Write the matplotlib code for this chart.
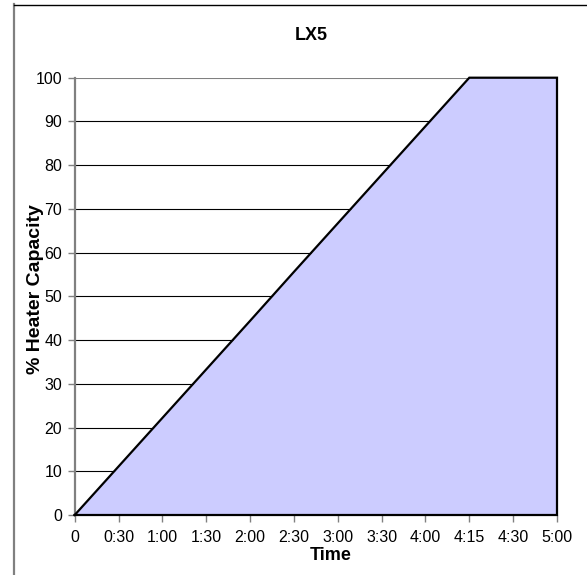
import numpy as np
import matplotlib
matplotlib.use("Agg")
import matplotlib.pyplot as plt
from matplotlib.lines import Line2D

plt.rcParams['font.family'] = ['Liberation Sans', 'DejaVu Sans']

# chart data: heater capacity ramps to 100% by 4:15
times = ['0', '0:30', '1:00', '1:30', '2:00', '2:30', '3:00', '3:30',
         '4:00', '4:15', '4:30', '5:00']
capacity = [0, 11.1, 22.2, 33.3, 44.4, 55.6, 66.7, 77.8, 88.9, 100, 100, 100]
y_ticks = [0, 10, 20, 30, 40, 50, 60, 70, 80, 90, 100]

W, H = 587, 575
fig = plt.figure(figsize=(W / 100, H / 100), dpi=100)
ax = fig.add_axes([74.7 / W, 1 - 515 / H, (557 - 74.7) / W, (515 - 77.7) / H])

x = np.arange(len(times))
ax.fill_between(x, capacity, 0, color='#CCCCFF', zorder=2, linewidth=0)
# outline of the area series (Excel draws the whole border)
ox = list(x) + [x[-1], x[0]]
oy = list(capacity) + [0, 0]
ax.plot(ox, oy, color='black', linewidth=1.6, zorder=3, solid_joinstyle='miter',
        clip_on=False)

ax.set_xlim(0, len(times) - 1)
ax.set_ylim(0, 100)
ax.set_xticks(x)
ax.set_xticklabels(times)
ax.set_yticks(y_ticks)

for v in y_ticks[1:-1]:
    ax.axhline(v, color='black', linewidth=0.8, zorder=1)
ax.axhline(100, color='#808080', linewidth=1.5, zorder=1)

for s in ['top', 'right', 'bottom']:
    ax.spines[s].set_visible(False)
ax.spines['left'].set_color('#808080')
ax.spines['left'].set_linewidth(1.6)
ax.tick_params(axis='both', colors='#808080', labelcolor='black',
               labelsize=11.5, length=5, width=1)
ax.tick_params(axis='y', pad=4)
ax.tick_params(axis='x', pad=6)

fig.text(311 / W, 1 - 36 / H, 'LX5', ha='center', va='center',
         fontsize=13, fontweight='bold')
fig.text(331 / W, 1 - 556 / H, 'Time', ha='center', va='center',
         fontsize=13, fontweight='bold')
fig.text(36 / W, 1 - 289 / H, '% Heater Capacity', ha='center', va='center',
         rotation=90, fontsize=14, fontweight='bold')

# chart frame (left and top edges visible)
fig.add_artist(Line2D([13.5 / W, 13.5 / W], [0, 1 - 4 / H], color='#808080',
                      linewidth=1.6, transform=fig.transFigure))
fig.add_artist(Line2D([13.5 / W, 1], [1 - 4.5 / H, 1 - 4.5 / H], color='black',
                      linewidth=1.0, transform=fig.transFigure))

fig.savefig('out.png', dpi=100)
